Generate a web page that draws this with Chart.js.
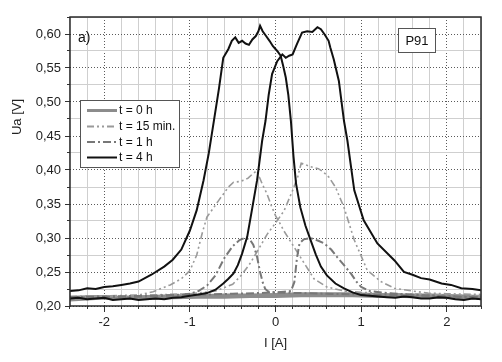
<!DOCTYPE html>
<html><head><meta charset="utf-8">
<script src="https://cdn.jsdelivr.net/npm/chart.js@4/dist/chart.umd.min.js"></script>
<style>html,body{margin:0;padding:0;background:#fff}canvas{display:block}</style>
</head><body>
<canvas id="c" width="502" height="362"></canvas>
<script>
// ---- data ----
const xTicks = [-2, -1, 0, 1, 2];
const yTicks = [0.20, 0.25, 0.30, 0.35, 0.40, 0.45, 0.50, 0.55, 0.60];
const legendLabels = ['t = 0 h', 't = 15 min.', 't = 1 h', 't = 4 h'];

// t = 4 h, left peak branch
const h4aX = [-2.4,-2.3,-2.2,-2.1,-2.0,-1.9,-1.8,-1.7,-1.6,-1.45,-1.3,-1.2,-1.1,-1.0,-0.92,-0.84,-0.78,-0.72,-0.66,-0.61,-0.55,-0.51,-0.47,-0.43,-0.39,-0.35,-0.31,-0.27,-0.23,-0.2,-0.18,-0.15,-0.11,-0.07,-0.03,0.02,0.06,0.09,0.12,0.15,0.18,0.21,0.24,0.29,0.35,0.41,0.47,0.53,0.6,0.7,0.8,0.9,1.0,1.1,1.2,1.3,1.4,1.5,1.6,1.7,1.8,1.9,2.0,2.1,2.2,2.3,2.4];
const h4aY = [0.222,0.223,0.226,0.225,0.228,0.229,0.231,0.233,0.236,0.246,0.258,0.268,0.283,0.311,0.341,0.385,0.424,0.472,0.52,0.565,0.578,0.590,0.595,0.587,0.590,0.586,0.584,0.592,0.597,0.604,0.612,0.604,0.597,0.590,0.582,0.575,0.568,0.553,0.536,0.510,0.472,0.420,0.380,0.345,0.318,0.297,0.276,0.258,0.245,0.233,0.226,0.220,0.216,0.215,0.214,0.213,0.212,0.214,0.213,0.211,0.211,0.213,0.212,0.210,0.209,0.211,0.210];
// t = 4 h, right peak branch
const h4bX = [-2.4,-2.3,-2.2,-2.1,-2.0,-1.9,-1.8,-1.7,-1.6,-1.5,-1.4,-1.3,-1.2,-1.1,-1.0,-0.9,-0.8,-0.7,-0.61,-0.55,-0.49,-0.44,-0.39,-0.33,-0.27,-0.215,-0.156,-0.117,-0.08,-0.04,0.02,0.08,0.12,0.16,0.2,0.25,0.31,0.37,0.43,0.49,0.53,0.57,0.62,0.64,0.68,0.74,0.8,0.84,0.92,1.03,1.19,1.39,1.5,1.6,1.7,1.8,1.94,2.05,2.17,2.3,2.4];
const h4bY = [0.211,0.212,0.210,0.211,0.212,0.209,0.210,0.211,0.209,0.210,0.211,0.210,0.212,0.213,0.215,0.217,0.219,0.224,0.233,0.240,0.248,0.260,0.277,0.302,0.345,0.385,0.443,0.472,0.510,0.541,0.560,0.570,0.565,0.568,0.570,0.585,0.602,0.604,0.603,0.610,0.607,0.600,0.590,0.580,0.563,0.531,0.472,0.443,0.370,0.326,0.292,0.267,0.250,0.246,0.241,0.239,0.233,0.231,0.226,0.225,0.223];
// t = 15 min, left branch
const m15aX = [-2.4,-2.0,-1.6,-1.43,-1.23,-1.1,-1.0,-0.92,-0.85,-0.8,-0.72,-0.665,-0.6,-0.55,-0.49,-0.42,-0.37,-0.32,-0.27,-0.22,-0.19,-0.15,-0.1,-0.05,0.0,0.05,0.1,0.2,0.3,0.45,0.6,0.8,1.0,1.4,1.8,2.1,2.4];
const m15aY = [0.214,0.215,0.216,0.221,0.231,0.240,0.252,0.275,0.310,0.331,0.345,0.355,0.366,0.375,0.382,0.383,0.385,0.388,0.394,0.399,0.390,0.378,0.365,0.348,0.333,0.322,0.310,0.290,0.270,0.240,0.228,0.222,0.220,0.218,0.217,0.216,0.215];
// t = 15 min, right branch
const m15bX = [-2.4,-2.0,-1.5,-1.0,-0.7,-0.5,-0.4,-0.3,-0.2,-0.1,0.0,0.1,0.2,0.26,0.3,0.35,0.4,0.5,0.56,0.62,0.7,0.8,0.92,1.07,1.23,1.39,1.6,1.78,2.0,2.4];
const m15bY = [0.213,0.214,0.216,0.218,0.222,0.232,0.245,0.262,0.283,0.305,0.322,0.340,0.370,0.390,0.410,0.408,0.405,0.402,0.397,0.390,0.375,0.345,0.297,0.253,0.236,0.226,0.222,0.219,0.218,0.217];
// t = 1 h, left branch
const h1aX = [-2.4,-2.0,-1.5,-1.2,-1.0,-0.9,-0.8,-0.7,-0.6,-0.5,-0.42,-0.36,-0.3,-0.26,-0.22,-0.18,-0.15,-0.12,-0.08,0.0,0.3,0.6,1.0,1.5,2.0,2.4];
const h1aY = [0.212,0.213,0.214,0.216,0.218,0.222,0.230,0.245,0.270,0.288,0.297,0.300,0.298,0.290,0.275,0.250,0.235,0.225,0.221,0.220,0.219,0.218,0.217,0.216,0.214,0.213];
// t = 1 h, right branch
const h1bX = [-2.4,-2.0,-1.5,-1.0,-0.5,-0.2,0.0,0.1,0.18,0.22,0.25,0.28,0.33,0.41,0.5,0.57,0.65,0.72,0.8,0.88,0.95,1.0,1.1,1.3,1.7,2.0,2.4];
const h1bY = [0.213,0.214,0.215,0.216,0.218,0.219,0.220,0.221,0.222,0.235,0.270,0.292,0.298,0.300,0.296,0.292,0.283,0.272,0.260,0.248,0.235,0.228,0.222,0.219,0.216,0.214,0.213];
// t = 0 h, two branches
const h0aX = [-2.4,-2.1,-1.8,-1.5,-1.2,-0.9,-0.6,-0.3,0.0,0.3,0.6,0.9,1.2,1.5,1.8,2.1,2.4];
const h0aY = [0.213,0.214,0.213,0.214,0.215,0.215,0.216,0.216,0.217,0.218,0.218,0.218,0.217,0.216,0.216,0.215,0.214];
const h0bX = [-2.4,-2.1,-1.8,-1.5,-1.2,-0.9,-0.6,-0.3,0.0,0.3,0.6,0.9,1.2,1.5,1.8,2.1,2.4];
const h0bY = [0.209,0.211,0.212,0.211,0.212,0.213,0.213,0.214,0.214,0.215,0.215,0.215,0.214,0.214,0.213,0.212,0.212];

// ---- styles ----
const FONT = '"Liberation Sans", Arial, sans-serif';
const C0 = '#8c8c8c', C15 = '#9a9a9a', C1 = '#777777', C4 = '#111111';
const D15 = [7,3,2,3,2,3], D1 = [8,3,2,3];
const pts = (xs, ys) => xs.map((x, i) => ({x: x, y: ys[i]}));
const ds = (xs, ys, color, width, dash) => ({
  data: pts(xs, ys), borderColor: color, borderWidth: width, borderDash: dash || [],
  pointRadius: 0, tension: 0, fill: false, borderCapStyle: 'butt'
});

const xMinor = [], yMinor = [];
for (let i = -12; i <= 12; i++) if (i % 5 !== 0) xMinor.push(i * 0.2);
for (let i = 8; i <= 25; i++) if (i % 2 === 1) yMinor.push(i * 0.025);

const frameAndText = {
  id: 'frameAndText',
  afterDatasetsDraw(chart) {
    const ctx = chart.ctx, a = chart.chartArea;
    ctx.save();
    ctx.strokeStyle = '#2a2a2a'; ctx.lineWidth = 1.5;
    ctx.strokeRect(a.left, a.top, a.right - a.left, a.bottom - a.top);
    ctx.fillStyle = '#111'; ctx.font = '14px ' + FONT;
    ctx.textAlign = 'left'; ctx.textBaseline = 'middle';
    ctx.fillText('a)', 78, 38);
    ctx.fillStyle = '#fff'; ctx.fillRect(398, 28, 37, 24);
    ctx.strokeStyle = '#555'; ctx.lineWidth = 1;
    ctx.strokeRect(398.5, 28.5, 37, 24);
    ctx.fillStyle = '#111'; ctx.font = '13px ' + FONT; ctx.textAlign = 'center';
    ctx.fillText('P91', 417, 41);
    ctx.fillStyle = '#fff'; ctx.fillRect(80, 100, 99, 67);
    ctx.strokeStyle = '#555'; ctx.lineWidth = 1; ctx.strokeRect(80.5, 100.5, 99, 67);
    const rows = [110.5, 126.5, 142, 157.5];
    const st = [[C0, 3, []], [C15, 2, D15], [C1, 2, D1], [C4, 2, []]];
    ctx.font = '12px ' + FONT; ctx.textAlign = 'left';
    rows.forEach((y, i) => {
      ctx.beginPath(); ctx.strokeStyle = st[i][0]; ctx.lineWidth = st[i][1];
      ctx.setLineDash(st[i][2]); ctx.moveTo(87, y); ctx.lineTo(117, y); ctx.stroke();
      ctx.setLineDash([]);
      ctx.fillStyle = '#111'; ctx.fillText(legendLabels[i], 119, y + 0.5);
    });
    ctx.save(); ctx.translate(17, 117); ctx.rotate(-Math.PI / 2);
    ctx.font = '13px ' + FONT; ctx.textAlign = 'center'; ctx.textBaseline = 'middle';
    ctx.fillStyle = '#222'; ctx.fillText('Ua [V]', 0, 0);
    ctx.restore();
    ctx.restore();
  }
};

new Chart(document.getElementById('c'), {
  type: 'line',
  data: {
    datasets: [
      ds(h4aX, h4aY, C4, 2), ds(h4bX, h4bY, C4, 2),
      ds(h1aX, h1aY, C1, 2, D1), ds(h1bX, h1bY, C1, 2, D1),
      ds(m15aX, m15aY, C15, 1.6, D15), ds(m15bX, m15bY, C15, 1.6, D15),
      ds(h0aX, h0aY, C0, 3), ds(h0bX, h0bY, C0, 3)
    ]
  },
  options: {
    responsive: false, animation: false, devicePixelRatio: 1,
    layout: {padding: {top: 17, right: 21, bottom: 0, left: 0}},
    plugins: {legend: {display: false}, tooltip: {enabled: false}},
    scales: {
      x: {
        type: 'linear', position: 'bottom', min: -2.4, max: 2.4, weight: 1,
        afterBuildTicks: s => { s.ticks = xTicks.map(v => ({value: v})); },
        afterFit: s => { s.height = 56; },
        ticks: {font: {family: FONT, size: 13}, color: '#222', padding: 3, callback: v => String(v)},
        grid: {color: '#5a5a5a', lineWidth: 1, tickLength: 6, tickColor: '#333', tickWidth: 1},
        border: {display: false, dash: [1, 2]},
        title: {display: true, text: 'I [A]', font: {family: FONT, size: 13}, color: '#222', padding: {top: 0, bottom: 11}}
      },
      x2: {
        type: 'linear', position: 'bottom', min: -2.4, max: 2.4, weight: 0,
        afterBuildTicks: s => { s.ticks = xMinor.map(v => ({value: v})); },
        afterFit: s => { s.height = 0; },
        ticks: {display: false},
        grid: {color: '#cfcfcf', lineWidth: 1, tickLength: 3, tickColor: '#333'},
        border: {display: false}
      },
      y: {
        type: 'linear', position: 'left', min: 0.20, max: 0.625, weight: 1,
        afterBuildTicks: s => { s.ticks = yTicks.map(v => ({value: v})); },
        afterFit: s => { s.width = 70; },
        ticks: {font: {family: FONT, size: 13}, color: '#222', padding: 4, callback: v => v.toFixed(2).replace('.', ',')},
        grid: {color: '#5a5a5a', lineWidth: 1, tickLength: 5, tickColor: '#333', tickWidth: 1},
        border: {display: false, dash: [1, 2]}
      },
      y2: {
        type: 'linear', position: 'left', min: 0.20, max: 0.625, weight: 0,
        afterBuildTicks: s => { s.ticks = yMinor.map(v => ({value: v})); },
        afterFit: s => { s.width = 0; },
        ticks: {display: false},
        grid: {color: '#cfcfcf', lineWidth: 1, tickLength: 3, tickColor: '#333'},
        border: {display: false}
      }
    }
  },
  plugins: [frameAndText]
});
</script>
</body></html>
